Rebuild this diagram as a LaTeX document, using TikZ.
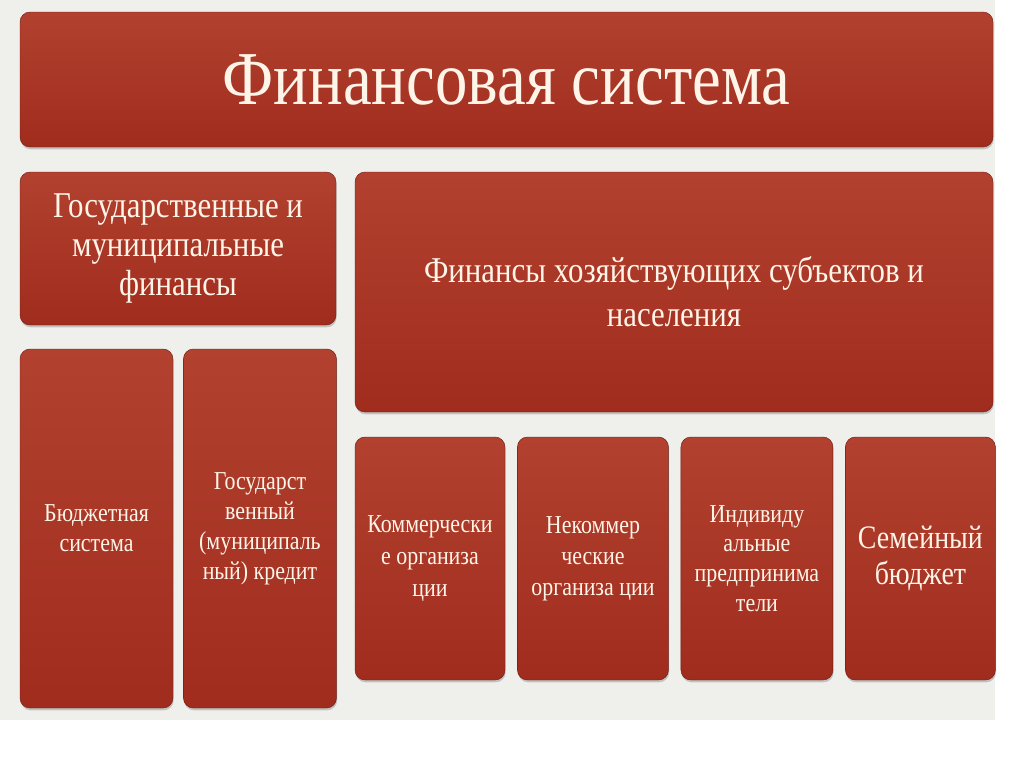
\documentclass[tikz,border=0pt]{standalone}
\usepackage{fontspec}
\setmainfont{Liberation Serif}
\newfontfamily\narrowserif[FakeStretch=0.85]{Liberation Serif}
\usetikzlibrary{positioning}
\usetikzlibrary{shadows}

\definecolor{boxtop}{HTML}{B2412F}
\definecolor{boxbot}{HTML}{A02C1D}
\definecolor{boxedge}{HTML}{6E1E14}
\definecolor{slide}{HTML}{EFEFEC}
\definecolor{cream}{HTML}{FFF4E8}

\tikzset{
  block/.style={rectangle,rounded corners=3mm,top color=boxtop,bottom color=boxbot,
    draw=boxedge,line width=0.4pt,text=cream,align=center,inner sep=0pt,
    drop shadow={shadow xshift=0.2mm,shadow yshift=-0.7mm,opacity=0.4}},
  px size/.style 2 args={minimum width=#1*0.3mm,minimum height=#2*0.3mm},
  big text/.style={font=\narrowserif\fontsize{31}{33.5}\selectfont},
  small text/.style={font=\narrowserif\fontsize{22}{25.5}\selectfont},
}

\begin{document}
\begin{tikzpicture}[x=0.3mm,y=-0.3mm,node distance=3.6mm]

  \path [use as bounding box,fill=white] (0,0) rectangle (1024,767);
  \fill [slide] (0,0) rectangle (995,720);

  \node [block,px size={973}{135},font=\narrowserif\fontsize{65}{70}\selectfont] (title) at (506.5,79.5) {Финансовая система};

  % left column
  \node [block,px size={316}{153},big text] (gov) at (178,248.5) {Государственные и\\муниципальные\\финансы};
  \node [block,px size={153}{359},small text] (budget) at (96.5,528.5) {Бюджетная\\система};
  \node [block,px size={153}{359},small text,right=3mm of budget] (credit) {Государст\\венный\\(муниципаль\\ный) кредит};

  % right column
  \node [block,px size={638}{240},font=\narrowserif\fontsize{31}{37.5}\selectfont] (house) at (674,292) {Финансы хозяйствующих субъектов и\\населения};
  \node [block,px size={150}{243},small text,font=\narrowserif\fontsize{22}{27}\selectfont] (comm) at (430,558.5) {Коммерчески\\е организа\\ции};
  \node [block,px size={151}{243},small text,font=\narrowserif\fontsize{22}{26.5}\selectfont,right=of comm] (noncomm) {Некоммер\\ческие\\организа ции};
  \node [block,px size={152}{243},small text,right=of noncomm] (indiv) {Индивиду\\альные\\предпринима\\тели};
  \node [block,px size={150}{243},font=\narrowserif\fontsize{28}{30}\selectfont,right=of indiv] (family) {Семейный\\бюджет};

\end{tikzpicture}
\end{document}
